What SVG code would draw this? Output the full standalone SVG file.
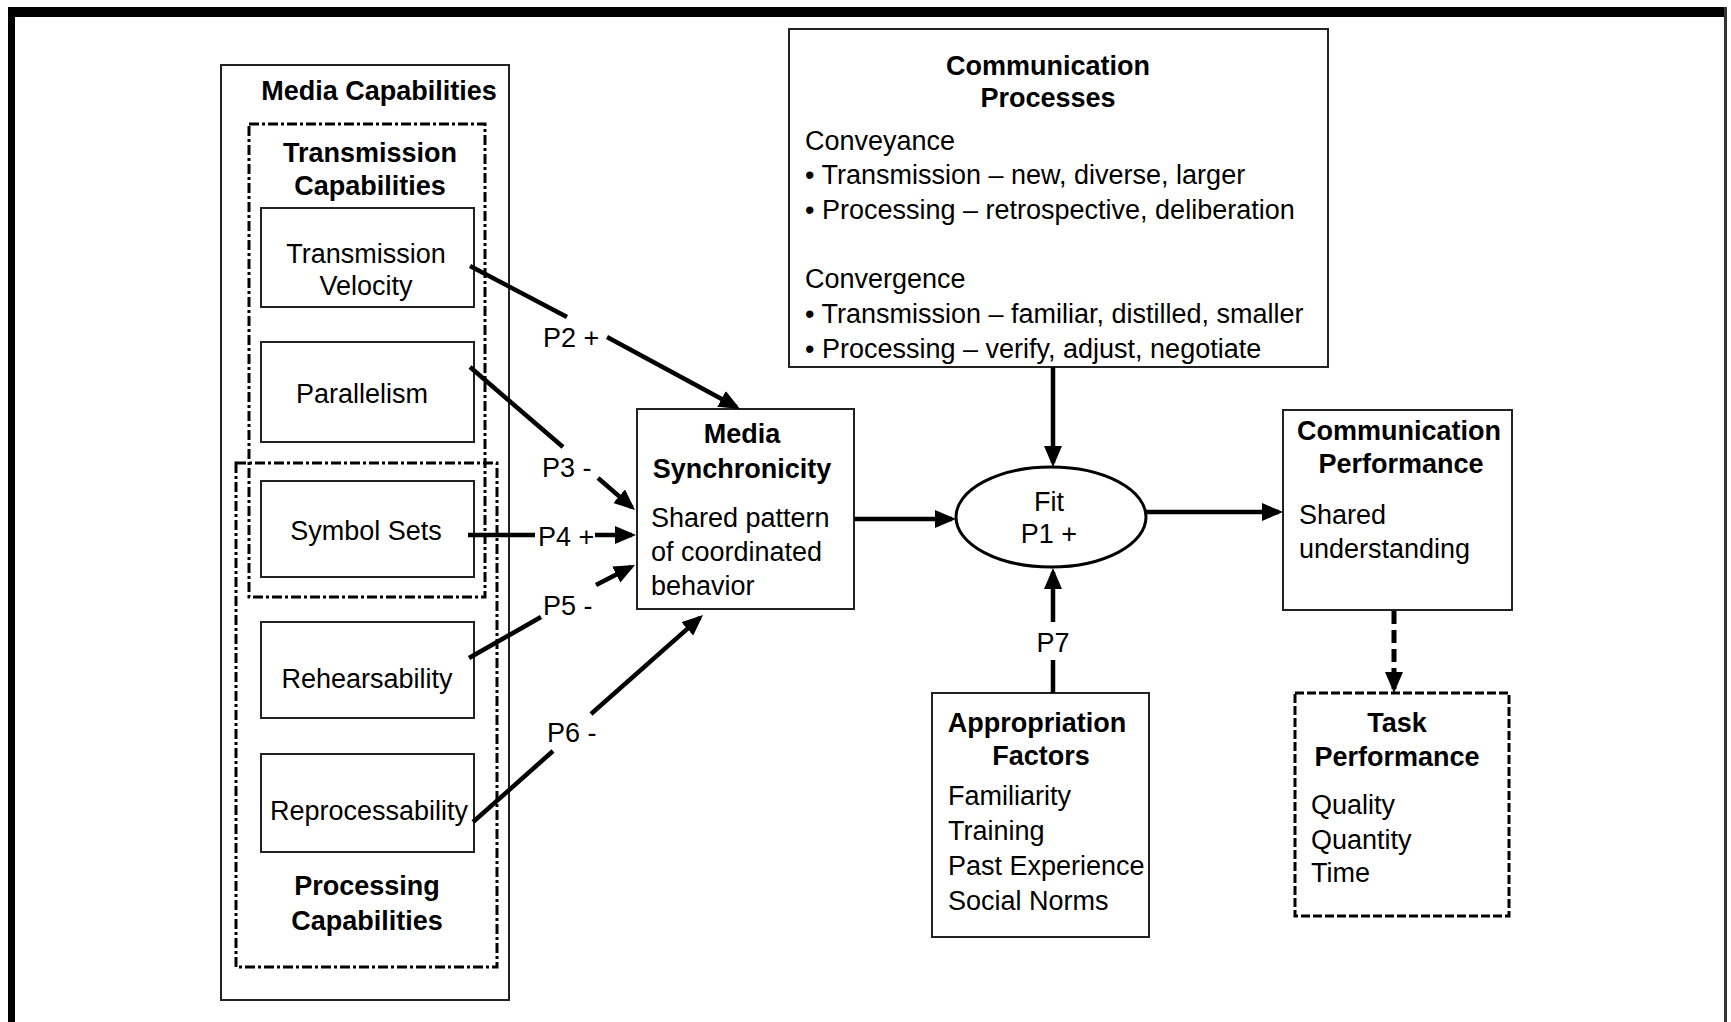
<svg xmlns="http://www.w3.org/2000/svg" width="1731" height="1022" viewBox="0 0 1731 1022">
  <style>
    text { font-family: "Liberation Sans", Arial, sans-serif; font-size: 27px; fill: #000; }
    .b { font-weight: bold; }
    .c { text-anchor: middle; }
    .box { fill: none; stroke: #222; stroke-width: 2; }
    .dashbox { fill: none; stroke: #000; stroke-width: 3; stroke-dasharray: 10 3 3 3; }
    .taskbox { fill: none; stroke: #000; stroke-width: 3; stroke-dasharray: 9 3; }
    .conn { fill: none; stroke: #000; stroke-width: 4.5; }
    .dashconn { fill: none; stroke: #000; stroke-width: 5; stroke-dasharray: 13 6; }
  </style>
  <defs>
    <marker id="arrow" markerUnits="userSpaceOnUse" markerWidth="23" markerHeight="20" refX="17" refY="9" orient="auto">
      <path d="M0,0 L21,9 L0,18 z" fill="#000"/>
    </marker>
  </defs>

  <rect width="1731" height="1022" fill="#fff"/>

  <!-- page frame -->
  <g id="frame">
    <rect x="8" y="7" width="1719" height="10" fill="#000"/>
    <rect x="8" y="7" width="7" height="1015" fill="#000"/>
    <rect x="1724" y="7" width="3" height="1015" fill="#333"/>
  </g>

  <!-- Media capabilities column -->
  <g id="media-capabilities">
    <rect class="box" x="221" y="65" width="288" height="935"/>
    <text class="b c" x="379" y="100">Media Capabilities</text>
  </g>
  <g id="transmission-capabilities">
    <rect class="dashbox" x="249" y="124" width="236" height="473"/>
    <text class="b c" x="370" y="162">Transmission</text>
    <text class="b c" x="370" y="195">Capabilities</text>
  </g>
  <g id="processing-capabilities">
    <rect class="dashbox" x="236" y="463" width="261" height="504"/>
    <text class="b c" x="367" y="895">Processing</text>
    <text class="b c" x="367" y="930">Capabilities</text>
  </g>
  <g id="transmission-velocity">
    <rect class="box" x="261" y="208" width="213" height="99"/>
    <text class="c" x="366" y="263">Transmission</text>
    <text class="c" x="366" y="295">Velocity</text>
  </g>
  <g id="parallelism">
    <rect class="box" x="261" y="342" width="213" height="100"/>
    <text class="c" x="362" y="403">Parallelism</text>
  </g>
  <g id="symbol-sets">
    <rect class="box" x="261" y="481" width="213" height="96"/>
    <text class="c" x="366" y="540">Symbol Sets</text>
  </g>
  <g id="rehearsability">
    <rect class="box" x="261" y="622" width="213" height="96"/>
    <text class="c" x="367" y="688">Rehearsability</text>
  </g>
  <g id="reprocessability">
    <rect class="box" x="261" y="754" width="213" height="98"/>
    <text class="c" x="369" y="820">Reprocessability</text>
  </g>

  <!-- Communication processes -->
  <g id="communication-processes">
    <rect class="box" x="789" y="29" width="539" height="338"/>
    <text class="b c" x="1048" y="75">Communication</text>
    <text class="b c" x="1048" y="107">Processes</text>
    <text x="805" y="150">Conveyance</text>
    <text x="805" y="184">• Transmission – new, diverse, larger</text>
    <text x="805" y="219">• Processing – retrospective, deliberation</text>
    <text x="805" y="288">Convergence</text>
    <text x="805" y="323">• Transmission – familiar, distilled, smaller</text>
    <text x="805" y="358">• Processing – verify, adjust, negotiate</text>
  </g>

  <!-- Media synchronicity -->
  <g id="media-synchronicity">
    <rect class="box" x="637" y="409" width="217" height="200"/>
    <text class="b c" x="742" y="443">Media</text>
    <text class="b c" x="742" y="478">Synchronicity</text>
    <text x="651" y="527">Shared pattern</text>
    <text x="651" y="561">of coordinated</text>
    <text x="651" y="595">behavior</text>
  </g>

  <!-- Fit -->
  <g id="fit">
    <ellipse cx="1051" cy="517" rx="95" ry="50" fill="#fff" stroke="#000" stroke-width="3"/>
    <text class="c" x="1049" y="511">Fit</text>
    <text class="c" x="1049" y="543">P1 +</text>
  </g>

  <!-- Communication performance -->
  <g id="communication-performance">
    <rect class="box" x="1283" y="410" width="229" height="200"/>
    <text class="b c" x="1399" y="440">Communication</text>
    <text class="b c" x="1401" y="473">Performance</text>
    <text x="1299" y="524">Shared</text>
    <text x="1299" y="558">understanding</text>
  </g>

  <!-- Task performance -->
  <g id="task-performance">
    <rect class="taskbox" x="1295" y="693" width="214" height="223"/>
    <text class="b c" x="1397" y="732">Task</text>
    <text class="b c" x="1397" y="766">Performance</text>
    <text x="1311" y="814">Quality</text>
    <text x="1311" y="849">Quantity</text>
    <text x="1311" y="882">Time</text>
  </g>

  <!-- Appropriation factors -->
  <g id="appropriation-factors">
    <rect class="box" x="932" y="693" width="217" height="244"/>
    <text class="b c" x="1037" y="732">Appropriation</text>
    <text class="b c" x="1041" y="765">Factors</text>
    <text x="948" y="805">Familiarity</text>
    <text x="948" y="840">Training</text>
    <text x="948" y="875">Past Experience</text>
    <text x="948" y="910">Social Norms</text>
  </g>

  <!-- connectors -->
  <g id="connectors">
    <path class="conn" d="M470,266 L567,317"/>
    <path class="conn" d="M607,337 L736.5,407" marker-end="url(#arrow)"/>
    <path class="conn" d="M470,367 L563,447"/>
    <path class="conn" d="M598,478 L632,507.4" marker-end="url(#arrow)"/>
    <path class="conn" d="M468,535 L535,535"/>
    <path class="conn" d="M595,535 L632,535" marker-end="url(#arrow)"/>
    <path class="conn" d="M469,658 L541,617"/>
    <path class="conn" d="M596,585 L631.4,566.8" marker-end="url(#arrow)"/>
    <path class="conn" d="M473,822 L553,751"/>
    <path class="conn" d="M591,714 L700,617.6" marker-end="url(#arrow)"/>
    <path class="conn" d="M854,519 L952,519" marker-end="url(#arrow)"/>
    <path class="conn" d="M1053,367 L1053,463" marker-end="url(#arrow)"/>
    <path class="conn" d="M1053,693 L1053,660"/>
    <path class="conn" d="M1053,622 L1053,572" marker-end="url(#arrow)"/>
    <path class="conn" d="M1146,512 L1279,512" marker-end="url(#arrow)"/>
    <path class="dashconn" d="M1394,611 L1394,689" marker-end="url(#arrow)"/>

    <text x="543" y="347">P2 +</text>
    <text x="542" y="477">P3 -</text>
    <text x="538" y="546">P4 +</text>
    <text x="543" y="615">P5 -</text>
    <text x="547" y="742">P6 -</text>
    <text class="c" x="1053" y="652">P7</text>
  </g>
</svg>
